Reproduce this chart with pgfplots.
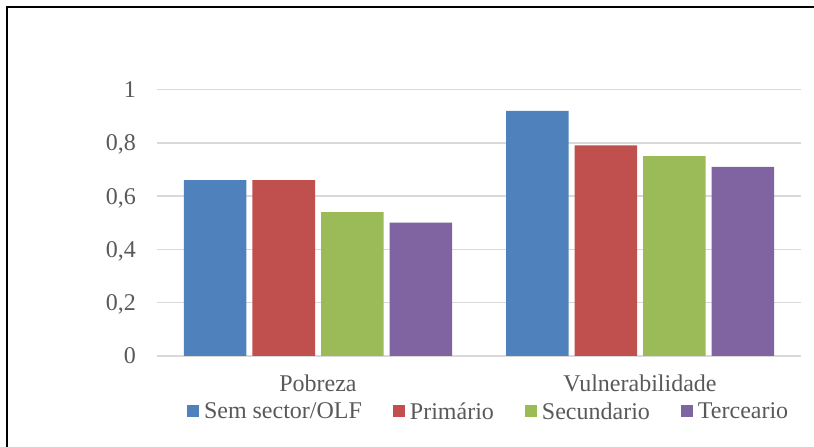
\documentclass[border=0pt]{standalone}
\usepackage{fontspec}
\setmainfont{Liberation Serif}
\usepackage{pgfplots}
\pgfplotsset{compat=1.18}
\definecolor{cblue}{HTML}{4F81BD}
\definecolor{cred}{HTML}{C0504D}
\definecolor{cgreen}{HTML}{9BBB59}
\definecolor{cpurple}{HTML}{8064A2}
\definecolor{tgray}{HTML}{595959}
\definecolor{ggray}{HTML}{D9D9D9}
\begin{document}
\begin{tikzpicture}
\useasboundingbox (-157pt,-91pt) rectangle (657pt,356pt);
\begin{axis}[
  at={(0pt,0pt)}, anchor=south west,
  scale only axis, width=644pt, height=266.5pt,
  xmin=-0.5, xmax=1.5, ymin=0, ymax=1,
  xtick={0,1}, xticklabels={Pobreza, Vulnerabilidade},
  ytick={0,0.2,0.4,0.6,0.8,1},
  ybar=6pt, bar width=62.5pt,
  axis line style={draw=none}, major tick length=0pt,
  ymajorgrids, grid style={ggray, line width=1.6pt},
  tick label style={font=\fontsize{24}{28}\selectfont, text=tgray, inner sep=0pt},
  yticklabel style={anchor=east, text depth=0pt, xshift=-21pt},
  xticklabel style={anchor=base, text depth=0pt, yshift=-36pt},
  /pgf/number format/use comma,
  /pgf/number format/assume math mode=true,
  legend columns=4,
  legend style={draw=none, fill=none, at={(axis description cs:0.0466,-0.206)}, anchor=west,
    font=\fontsize{24}{28}\selectfont, text=tgray,
    nodes={inner sep=0pt, text depth=0pt},
    /tikz/every odd column/.append style={column sep=5pt},
    /tikz/every even column/.append style={column sep=31pt},
    inner sep=0pt, outer sep=0pt},
  legend image code/.code={\fill[#1] (0pt,-6pt) rectangle (12pt,6pt);},
]
\addplot[fill=cblue, draw=none] coordinates {(0,0.66) (1,0.92)};
\addplot[fill=cred, draw=none] coordinates {(0,0.66) (1,0.79)};
\addplot[fill=cgreen, draw=none] coordinates {(0,0.54) (1,0.75)};
\addplot[fill=cpurple, draw=none] coordinates {(0,0.50) (1,0.71)};
\legend{Sem sector/OLF, Primário, Secundario, Terceario}
\end{axis}
\draw[line width=2.5pt, black] (-150pt,-92pt) -- (-150pt,349pt) -- (658pt,349pt);
\end{tikzpicture}
\end{document}
